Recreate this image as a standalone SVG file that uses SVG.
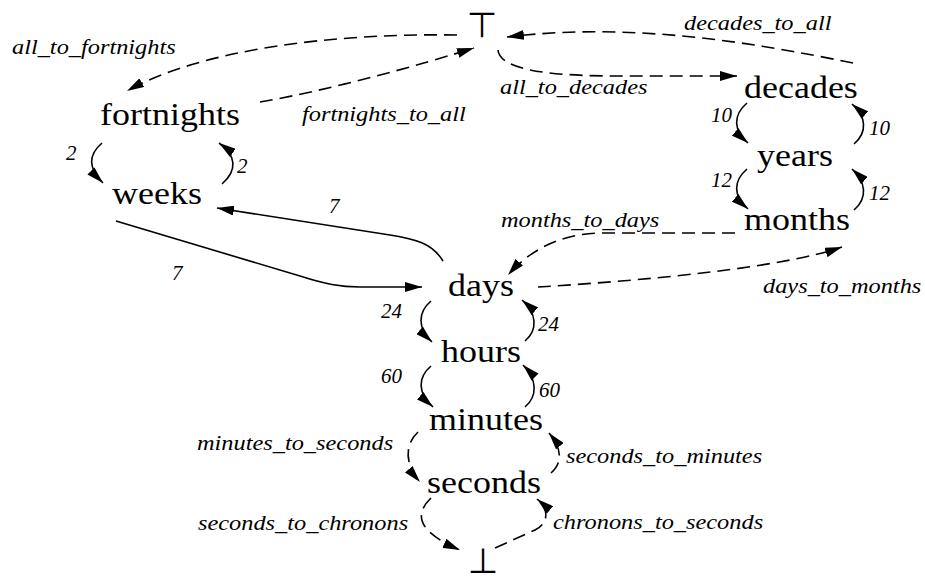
<svg xmlns="http://www.w3.org/2000/svg" width="925" height="578" viewBox="0 0 925 578">
  <style>
    .node { font-family: "Liberation Serif", serif; font-size: 31px; fill: #000; text-anchor: middle; }
    .sym { font-family: "DejaVu Sans", sans-serif; font-size: 35px; fill: #000; text-anchor: middle; }
    .lbl { font-family: "Liberation Serif", serif; font-style: italic; font-size: 21px; fill: #000; }
    .e { fill: none; stroke: #000; stroke-width: 1.6; }
    .d { stroke-dasharray: 13 7; }
  </style>
  <defs>
    <marker id="arrow" markerUnits="userSpaceOnUse" markerWidth="18" markerHeight="10" refX="17" refY="5" orient="auto">
      <path d="M0,0 L17,5 L0,10 Z" fill="#000"/>
    </marker>
  </defs>
  <rect width="925" height="578" fill="#fff"/>

  <!-- connectors: curves with filled arrowheads, labels in italic -->
  <g id="connectors">
    <g id="e-all-fortnights">
      <path class="e d" marker-end="url(#arrow)" d="M457,35 C 330,33 200,50 127,91"/>
      <text class="lbl" font-family="Liberation Serif" x="12" y="54" transform="translate(12,54) scale(1.16,1) translate(-12,-54)">all_to_fortnights</text>
    </g>
    <g id="e-fortnights-all">
      <path class="e d" marker-end="url(#arrow)" d="M260,102 C 330,90 420,65 474,48"/>
      <text class="lbl" font-family="Liberation Serif" x="302" y="121" transform="translate(302,121) scale(1.16,1) translate(-302,-121)">fortnights_to_all</text>
    </g>
    <g id="e-all-decades">
      <path class="e d" marker-end="url(#arrow)" d="M498,50 C 500,72 560,76 620,76 L737,76"/>
      <text class="lbl" font-family="Liberation Serif" x="500" y="94" transform="translate(500,94) scale(1.16,1) translate(-500,-94)">all_to_decades</text>
    </g>
    <g id="e-decades-all">
      <path class="e d" marker-end="url(#arrow)" d="M853,63 C 750,42 630,22 507,37"/>
      <text class="lbl" font-family="Liberation Serif" x="684" y="30" transform="translate(684,30) scale(1.16,1) translate(-684,-30)">decades_to_all</text>
    </g>
    <g id="e-fortnights-weeks">
      <path class="e" marker-end="url(#arrow)" d="M102,143 C 88,155 88,168 103,183"/>
      <text class="lbl" font-family="Liberation Serif" x="66" y="160">2</text>
    </g>
    <g id="e-weeks-fortnights">
      <path class="e" marker-end="url(#arrow)" d="M222,184 C 238,170 236,155 219,143"/>
      <text class="lbl" font-family="Liberation Serif" x="237" y="173">2</text>
    </g>
    <g id="e-days-weeks">
      <path class="e" marker-end="url(#arrow)" d="M443,261 C 432,243 415,239 390,235 L217,208"/>
      <text class="lbl" font-family="Liberation Serif" x="329" y="213">7</text>
    </g>
    <g id="e-weeks-days">
      <path class="e" marker-end="url(#arrow)" d="M116,221 L300,276 C 325,284 340,287 360,287 L422,287"/>
      <text class="lbl" font-family="Liberation Serif" x="172" y="280">7</text>
    </g>
    <g id="e-months-days">
      <path class="e d" marker-end="url(#arrow)" d="M735,233 L600,233 C 560,234 530,250 508,275"/>
      <text class="lbl" font-family="Liberation Serif" x="501" y="227" transform="translate(501,227) scale(1.16,1) translate(-501,-227)">months_to_days</text>
    </g>
    <g id="e-days-months">
      <path class="e d" marker-end="url(#arrow)" d="M538,287 C 650,280 780,268 842,247"/>
      <text class="lbl" font-family="Liberation Serif" x="763" y="293" transform="translate(763,293) scale(1.16,1) translate(-763,-293)">days_to_months</text>
    </g>
    <g id="e-decades-years">
      <path class="e" marker-end="url(#arrow)" d="M747,103 C 733,115 733,130 748,143"/>
      <text class="lbl" font-family="Liberation Serif" x="711" y="122">10</text>
    </g>
    <g id="e-years-decades">
      <path class="e" marker-end="url(#arrow)" d="M854,144 C 868,132 866,116 852,104"/>
      <text class="lbl" font-family="Liberation Serif" x="869" y="135">10</text>
    </g>
    <g id="e-years-months">
      <path class="e" marker-end="url(#arrow)" d="M747,169 C 733,181 733,196 748,209"/>
      <text class="lbl" font-family="Liberation Serif" x="711" y="187">12</text>
    </g>
    <g id="e-months-years">
      <path class="e" marker-end="url(#arrow)" d="M854,210 C 868,198 866,182 852,169"/>
      <text class="lbl" font-family="Liberation Serif" x="869" y="200">12</text>
    </g>
    <g id="e-days-hours">
      <path class="e" marker-end="url(#arrow)" d="M431,301 C 418,312 417,328 432,342"/>
      <text class="lbl" font-family="Liberation Serif" x="381" y="318">24</text>
    </g>
    <g id="e-hours-days">
      <path class="e" marker-end="url(#arrow)" d="M525,341 C 538,330 537,313 522,300"/>
      <text class="lbl" font-family="Liberation Serif" x="538" y="331">24</text>
    </g>
    <g id="e-hours-minutes">
      <path class="e" marker-end="url(#arrow)" d="M431,366 C 418,377 417,393 433,407"/>
      <text class="lbl" font-family="Liberation Serif" x="381" y="383">60</text>
    </g>
    <g id="e-minutes-hours">
      <path class="e" marker-end="url(#arrow)" d="M525,407 C 538,396 537,379 523,365"/>
      <text class="lbl" font-family="Liberation Serif" x="539" y="397">60</text>
    </g>
    <g id="e-minutes-seconds">
      <path class="e d" marker-end="url(#arrow)" d="M418,432 C 404,445 405,465 420,482"/>
      <text class="lbl" font-family="Liberation Serif" x="197" y="450" transform="translate(197,450) scale(1.16,1) translate(-197,-450)">minutes_to_seconds</text>
    </g>
    <g id="e-seconds-minutes">
      <path class="e d" marker-end="url(#arrow)" d="M551,473 C 562,463 563,450 549,433"/>
      <text class="lbl" font-family="Liberation Serif" x="566" y="463" transform="translate(566,463) scale(1.16,1) translate(-566,-463)">seconds_to_minutes</text>
    </g>
    <g id="e-seconds-chronons">
      <path class="e d" marker-end="url(#arrow)" d="M431,498 C 410,518 425,535 460,550"/>
      <text class="lbl" font-family="Liberation Serif" x="198" y="530" transform="translate(198,530) scale(1.16,1) translate(-198,-530)">seconds_to_chronons</text>
    </g>
    <g id="e-chronons-seconds">
      <path class="e d" marker-end="url(#arrow)" d="M495,548 L535,530 C 548,524 550,510 537,499"/>
      <text class="lbl" font-family="Liberation Serif" x="553" y="529" transform="translate(553,529) scale(1.16,1) translate(-553,-529)">chronons_to_seconds</text>
    </g>
  </g>

  <!-- nodes -->
  <g id="top"><text class="sym" x="482" y="37">⊤</text></g>
  <g id="fortnights"><text class="node" font-family="Liberation Serif" x="170" y="125" transform="translate(170,125) scale(1.16,1) translate(-170,-125)">fortnights</text></g>
  <g id="weeks"><text class="node" font-family="Liberation Serif" x="157" y="204" transform="translate(157,204) scale(1.16,1) translate(-157,-204)">weeks</text></g>
  <g id="decades"><text class="node" font-family="Liberation Serif" x="801" y="98" transform="translate(801,98) scale(1.16,1) translate(-801,-98)">decades</text></g>
  <g id="years"><text class="node" font-family="Liberation Serif" x="795" y="166" transform="translate(795,166) scale(1.16,1) translate(-795,-166)">years</text></g>
  <g id="months"><text class="node" font-family="Liberation Serif" x="797" y="230" transform="translate(797,230) scale(1.16,1) translate(-797,-230)">months</text></g>
  <g id="days"><text class="node" font-family="Liberation Serif" x="481" y="296" transform="translate(481,296) scale(1.16,1) translate(-481,-296)">days</text></g>
  <g id="hours"><text class="node" font-family="Liberation Serif" x="481" y="362" transform="translate(481,362) scale(1.16,1) translate(-481,-362)">hours</text></g>
  <g id="minutes"><text class="node" font-family="Liberation Serif" x="486" y="430" transform="translate(486,430) scale(1.16,1) translate(-486,-430)">minutes</text></g>
  <g id="seconds"><text class="node" font-family="Liberation Serif" x="484" y="493" transform="translate(484,493) scale(1.16,1) translate(-484,-493)">seconds</text></g>
  <g id="bottom"><text class="sym" x="483" y="573">⊥</text></g>
</svg>
